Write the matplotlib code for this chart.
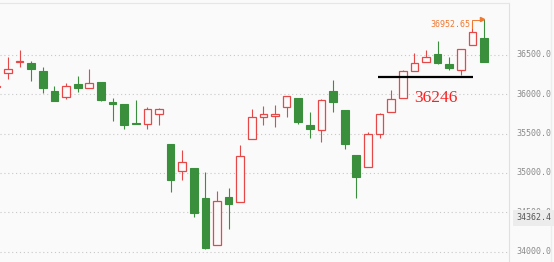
import numpy as np
import matplotlib
matplotlib.use("Agg")
import matplotlib.pyplot as plt

# daily candles, oldest first (the first one is cut by the left edge)
opens  = [36100, 36267, 36410, 36398, 36296, 36038, 35962, 36131, 36076, 36153,
          35902, 35877, 35633, 35619, 35749, 35372, 35021, 35059, 34677, 34079,
          34698, 34634, 35428, 35711, 35720, 35835, 35953, 35606, 35542, 36038,
          35800, 35224, 35075, 35491, 35779, 35949, 36296, 36411, 36517, 36382,
          36313, 36627, 36720]
closes = [36110, 36318, 36420, 36318, 36076, 35919, 36102, 36084, 36140, 35931,
          35881, 35610, 35629, 35809, 35809, 34910, 35143, 34494, 34041, 34639,
          34601, 35219, 35715, 35746, 35746, 35975, 35652, 35555, 35924, 35906,
          35372, 34948, 35495, 35746, 35944, 36296, 36394, 36478, 36402, 36338,
          36580, 36789, 36411]
highs  = [36120, 36478, 36564, 36424, 36344, 36106, 36148, 36233, 36318, 36153,
          35953, 35877, 35928, 35842, 35822, 35372, 35292, 35059, 35008, 34770,
          34808, 35355, 35813, 35851, 35864, 35975, 35953, 35779, 35944, 36182,
          35800, 35224, 35517, 35758, 36055, 36309, 36522, 36564, 36678, 36478,
          36580, 36924, 36952.65]
lows   = [36095, 36191, 36344, 36173, 36013, 35919, 35936, 36033, 36076, 35911,
          35664, 35563, 35625, 35555, 35606, 34761, 34910, 34436, 34028, 34079,
          34283, 34634, 35428, 35610, 35580, 35715, 35618, 35448, 35397, 35779,
          35301, 34677, 35075, 35440, 35779, 35949, 36296, 36411, 36382, 36309,
          36246, 36627, 36411]

grid_levels = [34000, 34500, 35000, 35500, 36000, 36500]
support = 36225
support_label = "36246"
low_label = "34362.4"

red = "#e64848"
green = "#3a8f3c"
bg = "#fafafa"

o = np.array(opens, float)
c = np.array(closes, float)
h = np.array(highs, float)
l = np.array(lows, float)
x = np.arange(len(o))
up = c >= o
top = np.maximum(o, c)
bot = np.minimum(o, c)

fig = plt.figure(figsize=(5.54, 2.62), dpi=100, facecolor=bg)
ax = fig.add_axes([0, 0, 509 / 554, 259 / 262])
ax.set_facecolor(bg)

ax.set_xlim(0.31, 44.15)
ax.set_ylim(33867, 37161)

for g in grid_levels:
    ax.axhline(g, color="#c8c8c8", lw=0.8, ls=(0, (1, 2.5)), zorder=0)

# wicks (kept outside the bodies)
ax.vlines(x, top, h, color=np.where(up, red, green), lw=0.8, zorder=1)
ax.vlines(x, l, bot, color=np.where(up, red, green), lw=0.8, zorder=1)

w = 0.66
ax.bar(x[~up], (top - bot)[~up] + 2, bottom=bot[~up] - 1, width=w,
       color=green, edgecolor=green, lw=0.8, zorder=2)
ax.bar(x[up], (top - bot)[up] + 2, bottom=bot[up] - 1, width=w,
       facecolor=bg, edgecolor=red, lw=0.9, zorder=2)

# support line and its label
ax.hlines(support, 32.9, 41.05, color="black", lw=1.6, zorder=3)
ax.text(35.95, 35950, support_label, color="#ff2020", fontsize=12.5,
        family="Liberation Serif", ha="left", va="center")

# highest point marker
imax = int(np.argmax(h))
ax.text(imax - 1.18, 36885, f"{h[imax]:.2f}", color="#f07830", fontsize=6,
        family="DejaVu Sans Mono", ha="right", va="center")
ax.plot([imax - 1.05, imax - 1.05, imax - 0.25], [36843, h[imax] - 10, h[imax] - 10],
        color="#f07830", lw=0.7)
ax.plot(imax - 0.2, h[imax], marker=">", ms=3, color="#f07830")

for s in ["left", "bottom"]:
    ax.spines[s].set_visible(False)
ax.spines["top"].set_color("#e6e6e6")
ax.spines["right"].set_color("#e0e0e0")
ax.set_xticks([])
ax.set_yticks([])

# price scale on the right
for g in grid_levels:
    ax.text(1.014, g, f"{g:.1f}", transform=ax.get_yaxis_transform(),
            color="#8a8a8a", fontsize=6, family="DejaVu Sans Mono",
            ha="left", va="center", clip_on=False, zorder=4)
ax.text(1.014, 34430, low_label, transform=ax.get_yaxis_transform(),
        color="#555555", fontsize=6, family="DejaVu Sans Mono",
        ha="left", va="center", clip_on=False, zorder=5,
        bbox=dict(boxstyle="square,pad=0.4", fc="#ececec", ec="none"))

fig.add_artist(plt.Line2D([551 / 554, 551 / 554], [0, 1], color="#ededed", lw=1))

fig.savefig("out.png", dpi=100, facecolor=bg)
